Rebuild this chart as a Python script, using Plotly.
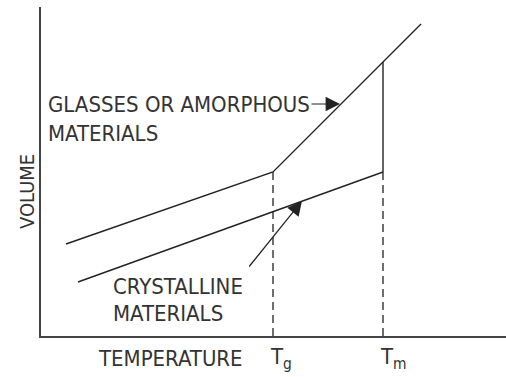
import plotly.graph_objects as go

# Data (arbitrary units: temperature on x, volume on y)
glass_temp = [25, 232, 380]
glass_vol = [92, 164, 312]
cryst_temp = [37, 342]
cryst_vol = [54, 164]
tm_jump_temp = [342, 342]
tm_jump_vol = [164, 274]
tg_temp = 232
tm_temp = 342
tick_vals = [tg_temp, tm_temp]
tick_text = ["T<sub>g</sub>", "T<sub>m</sub>"]

FONT = "DejaVu Sans Condensed, Liberation Sans Narrow, Liberation Sans, sans-serif"
LC = "#222222"
TC = "#333333"
FS = 22

fig = go.Figure()
fig.add_trace(go.Scatter(x=glass_temp, y=glass_vol, mode="lines",
                         line=dict(color=LC, width=1.4), hoverinfo="skip"))
fig.add_trace(go.Scatter(x=cryst_temp, y=cryst_vol, mode="lines",
                         line=dict(color=LC, width=1.4), hoverinfo="skip"))
fig.add_trace(go.Scatter(x=tm_jump_temp, y=tm_jump_vol, mode="lines",
                         line=dict(color=LC, width=1.4), hoverinfo="skip"))
for t in (tg_temp, tm_temp):
    fig.add_trace(go.Scatter(x=[t, t], y=[0, 164], mode="lines",
                             line=dict(color=LC, width=1.3, dash="8px,5px"),
                             hoverinfo="skip"))

ann = []
def txt(x, y, s, size=FS):
    ann.append(dict(x=x, y=y, xref="x", yref="y", text=s, showarrow=False,
                    xanchor="left", yanchor="middle",
                    font=dict(family=FONT, size=size, color=TC)))

txt(5, 232, "GLASSES OR AMORPHOUS")
txt(5, 203, "MATERIALS")
txt(70, 50, "CRYSTALLINE")
txt(70, 23, "MATERIALS")

# arrows
ann.append(dict(x=299, y=232, xref="x", yref="y", ax=-30, ay=0, text="",
                showarrow=True, arrowhead=2, arrowsize=2.4, arrowwidth=1.2,
                arrowcolor=LC, standoff=0))
ann.append(dict(x=261, y=135, xref="x", yref="y", ax=-54, ay=67, text="",
                showarrow=True, arrowhead=2, arrowsize=2.4, arrowwidth=1.2,
                arrowcolor=LC, standoff=0))

# x-axis labels
ann.append(dict(x=129, y=-22 / 329, xref="x", yref="paper", text="TEMPERATURE",
                showarrow=False, xanchor="center", yanchor="middle",
                font=dict(family=FONT, size=FS, color=TC)))
for v, s in zip(tick_vals, tick_text):
    ann.append(dict(x=v, y=-22 / 329, xref="x", yref="paper", text=s,
                    showarrow=False, xanchor="left", yanchor="middle", xshift=-5,
                    font=dict(family=FONT, size=FS, color=TC)))

# y-axis label
ann.append(dict(x=-14 / 465, y=(336 - 192) / 329, xref="paper", yref="paper",
                text="VOLUME", textangle=-90, showarrow=False,
                xanchor="center", yanchor="middle",
                font=dict(family=FONT, size=20, color=TC)))

fig.update_layout(
    width=506, height=377,
    margin=dict(l=41, r=0, t=7, b=41),
    paper_bgcolor="white", plot_bgcolor="white",
    showlegend=False,
    annotations=ann,
    xaxis=dict(range=[0, 465], showgrid=False, zeroline=False,
               showline=True, linecolor="#444444", linewidth=1.5,
               showticklabels=False, ticks=""),
    yaxis=dict(range=[0, 329], showgrid=False, zeroline=False,
               showline=True, linecolor="#444444", linewidth=1.5,
               showticklabels=False, ticks=""),
)

fig.write_html("out.html", config={"displayModeBar": False},
               post_script="document.body.style.margin='0';document.body.style.overflow='hidden';")
